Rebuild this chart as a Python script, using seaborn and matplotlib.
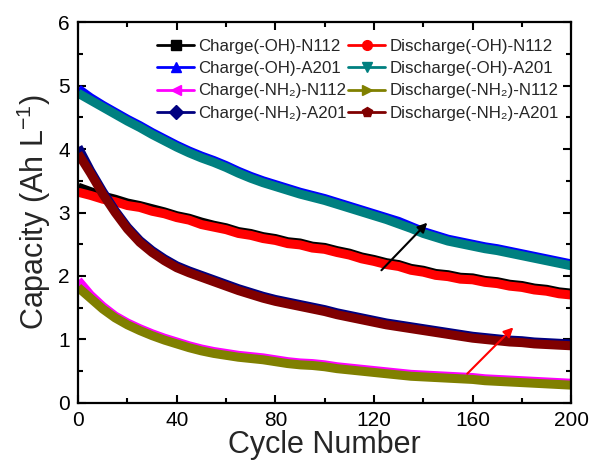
import numpy as np
import pandas as pd
import matplotlib
matplotlib.use("Agg")
import matplotlib.pyplot as plt
from matplotlib.lines import Line2D
from matplotlib.ticker import MultipleLocator
import seaborn as sns

# Cycle numbers (sampled every 5 cycles)
cycles = list(range(0, 201, 5))

# Capacity (Ah L^-1) for each membrane / functional group
charge_oh_n112 = [3.40, 3.33, 3.26, 3.21, 3.15, 3.11, 3.06, 3.01, 2.95, 2.91, 2.85, 2.80, 2.76, 2.70,
                  2.67, 2.62, 2.59, 2.54, 2.52, 2.47, 2.45, 2.40, 2.36, 2.30, 2.26, 2.21, 2.18, 2.12,
                  2.09, 2.04, 2.02, 1.98, 1.97, 1.93, 1.91, 1.87, 1.85, 1.81, 1.79, 1.75, 1.73]
discharge_oh_n112 = [3.32, 3.27, 3.21, 3.17, 3.11, 3.08, 3.02, 2.98, 2.92, 2.88, 2.81, 2.77, 2.73, 2.67,
                     2.64, 2.59, 2.56, 2.51, 2.49, 2.44, 2.42, 2.37, 2.33, 2.27, 2.23, 2.18, 2.15, 2.09,
                     2.06, 2.01, 1.99, 1.95, 1.94, 1.90, 1.88, 1.84, 1.82, 1.78, 1.76, 1.72, 1.70]
charge_oh_a201 = [4.95, 4.81, 4.69, 4.58, 4.47, 4.37, 4.26, 4.16, 4.06, 3.97, 3.89, 3.82, 3.74, 3.65,
                  3.57, 3.50, 3.44, 3.38, 3.32, 3.27, 3.22, 3.16, 3.10, 3.04, 2.98, 2.92, 2.86, 2.78,
                  2.70, 2.64, 2.58, 2.54, 2.50, 2.46, 2.43, 2.39, 2.35, 2.31, 2.27, 2.23, 2.19]
discharge_oh_a201 = [4.88, 4.77, 4.66, 4.55, 4.44, 4.34, 4.23, 4.13, 4.03, 3.94, 3.86, 3.79, 3.71, 3.62,
                     3.54, 3.47, 3.41, 3.35, 3.29, 3.24, 3.19, 3.13, 3.07, 3.01, 2.95, 2.89, 2.82, 2.75,
                     2.67, 2.61, 2.55, 2.51, 2.47, 2.43, 2.40, 2.36, 2.32, 2.28, 2.24, 2.20, 2.16]
charge_nh2_n112 = [1.93, 1.70, 1.52, 1.37, 1.26, 1.17, 1.09, 1.02, 0.96, 0.90, 0.85, 0.81, 0.78, 0.75,
                   0.73, 0.71, 0.68, 0.65, 0.63, 0.62, 0.60, 0.57, 0.55, 0.53, 0.51, 0.49, 0.47, 0.45,
                   0.44, 0.43, 0.42, 0.41, 0.40, 0.38, 0.37, 0.36, 0.35, 0.34, 0.33, 0.32, 0.31]
discharge_nh2_n112 = [1.82, 1.65, 1.48, 1.34, 1.23, 1.14, 1.06, 0.99, 0.93, 0.87, 0.82, 0.78, 0.75, 0.72,
                      0.70, 0.68, 0.65, 0.62, 0.60, 0.59, 0.57, 0.54, 0.52, 0.50, 0.48, 0.46, 0.44, 0.42,
                      0.41, 0.40, 0.39, 0.38, 0.37, 0.35, 0.34, 0.33, 0.32, 0.31, 0.30, 0.29, 0.28]
charge_nh2_a201 = [4.03, 3.66, 3.33, 3.03, 2.77, 2.56, 2.40, 2.27, 2.16, 2.08, 2.01, 1.94, 1.87, 1.80,
                   1.74, 1.68, 1.63, 1.59, 1.55, 1.51, 1.47, 1.42, 1.38, 1.34, 1.30, 1.26, 1.23, 1.20,
                   1.17, 1.14, 1.11, 1.08, 1.05, 1.03, 1.01, 0.99, 0.98, 0.96, 0.95, 0.94, 0.93]
discharge_nh2_a201 = [3.93, 3.62, 3.29, 3.00, 2.74, 2.53, 2.37, 2.24, 2.13, 2.05, 1.98, 1.91, 1.84, 1.77,
                      1.71, 1.65, 1.60, 1.56, 1.52, 1.48, 1.44, 1.39, 1.35, 1.31, 1.27, 1.23, 1.20, 1.17,
                      1.14, 1.11, 1.08, 1.05, 1.02, 1.00, 0.98, 0.96, 0.95, 0.93, 0.92, 0.91, 0.90]

series_labels = [
    "Charge(-OH)-N112", "Discharge(-OH)-N112",
    "Charge(-OH)-A201", "Discharge(-OH)-A201",
    "Charge(-NH\u2082)-N112", "Discharge(-NH\u2082)-N112",
    "Charge(-NH\u2082)-A201", "Discharge(-NH\u2082)-A201",
]
series_values = [
    charge_oh_n112, discharge_oh_n112,
    charge_oh_a201, discharge_oh_a201,
    charge_nh2_n112, discharge_nh2_n112,
    charge_nh2_a201, discharge_nh2_a201,
]
series_colors = ["#000000", "#FF0000", "#0000FF", "#008080",
                 "#FF00FF", "#808000", "#000080", "#800000"]
series_markers = ["s", "o", "^", "v", "<", ">", "D", "p"]

# Arrow annotations (data coordinates: tail -> head)
black_arrow = ((123, 2.09), (141.6, 2.84))
red_arrow = ((157.8, 0.46), (176.5, 1.19))

sns.set_theme(style="ticks")
plt.rcParams["font.family"] = ["Liberation Sans", "DejaVu Sans"]
plt.rcParams["mathtext.fontset"] = "custom"
plt.rcParams["mathtext.rm"] = "Liberation Sans"
plt.rcParams["mathtext.it"] = "Liberation Sans:italic"
plt.rcParams["mathtext.bf"] = "Liberation Sans:bold"
plt.rcParams["mathtext.default"] = "regular"

df = pd.concat(
    [pd.DataFrame({"cycle": cycles, "capacity": vals, "series": lab})
     for lab, vals in zip(series_labels, series_values)],
    ignore_index=True,
)

fig = plt.figure(figsize=(5.92, 4.61), dpi=100)
ax = fig.add_axes([0.132, 0.126, 0.833, 0.826])

for lab, col in zip(series_labels, series_colors):
    sns.lineplot(data=df[df["series"] == lab], x="cycle", y="capacity",
                 color=col, lw=6.5, ax=ax, legend=False, solid_capstyle="butt")

for (tail, head), col in [(black_arrow, "black"), (red_arrow, "red")]:
    ax.annotate("", xy=head, xytext=tail,
                arrowprops=dict(arrowstyle="-|>", color=col, lw=1.5,
                                mutation_scale=14, shrinkA=0, shrinkB=0))

ax.set_xlim(0, 200)
ax.set_ylim(0, 6)
ax.xaxis.set_major_locator(MultipleLocator(40))
ax.xaxis.set_minor_locator(MultipleLocator(20))
ax.yaxis.set_major_locator(MultipleLocator(1))
ax.yaxis.set_minor_locator(MultipleLocator(0.5))
ax.tick_params(which="both", direction="in", top=True, right=True, width=1.5,
               labelsize=15, colors="black")
ax.tick_params(which="major", length=6, pad=6)
ax.tick_params(which="minor", length=3.5)
for sp in ax.spines.values():
    sp.set_linewidth(1.6)
    sp.set_color("black")

ax.set_xlabel("Cycle Number", fontsize=22, labelpad=0)
ax.set_ylabel("Capacity (Ah L$^{-1}$)", fontsize=22, labelpad=4)

handles = [Line2D([0], [0], color=c, marker=m, lw=2, markersize=7)
           for c, m in zip(series_colors, series_markers)]
# legend is filled column-wise; reorder so rows read Charge / Discharge pairs
order = [0, 2, 4, 6, 1, 3, 5, 7]
ax.legend([handles[i] for i in order], [series_labels[i] for i in order],
          ncol=2, loc="upper left", bbox_to_anchor=(0.16, 0.955),
          frameon=False, fontsize=12.2, handlelength=2.2, handletextpad=0.25,
          columnspacing=0.05, borderpad=0, borderaxespad=0, labelspacing=0.42)

fig.savefig("out.png", dpi=100)
